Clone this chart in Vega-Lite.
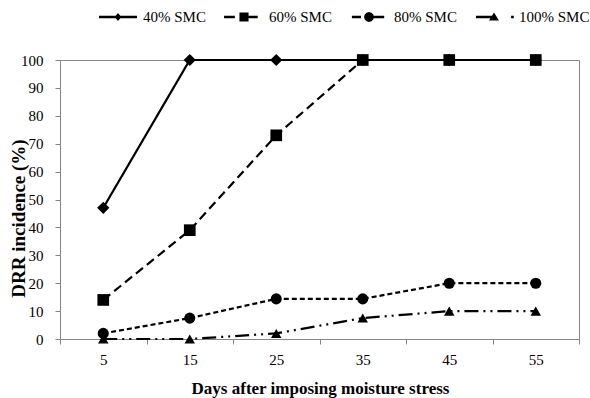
{
  "$schema": "https://vega.github.io/schema/vega-lite/v6.json",
  "autosize": "none",
  "width": 519,
  "height": 279,
  "padding": {"left": 60, "top": 60, "right": 11, "bottom": 59},
  "background": "white",
  "config": {
    "font": "Liberation Serif",
    "view": {"stroke": "#868686", "strokeWidth": 1},
    "axis": {"grid": false, "domainColor": "#868686", "tickColor": "#868686", "labelFont": "Liberation Serif", "labelFontSize": 15, "labelColor": "black", "titleFont": "Liberation Serif", "titleColor": "black", "titleFontWeight": "bold"}
  },
  "data": {"values": [
    {"day": "5", "series": "40% SMC", "value": 47},
    {"day": "15", "series": "40% SMC", "value": 100},
    {"day": "25", "series": "40% SMC", "value": 100},
    {"day": "35", "series": "40% SMC", "value": 100},
    {"day": "45", "series": "40% SMC", "value": 100},
    {"day": "55", "series": "40% SMC", "value": 100},
    {"day": "5", "series": "60% SMC", "value": 14},
    {"day": "15", "series": "60% SMC", "value": 39},
    {"day": "25", "series": "60% SMC", "value": 73},
    {"day": "35", "series": "60% SMC", "value": 100},
    {"day": "45", "series": "60% SMC", "value": 100},
    {"day": "55", "series": "60% SMC", "value": 100},
    {"day": "5", "series": "80% SMC", "value": 2},
    {"day": "15", "series": "80% SMC", "value": 7.5},
    {"day": "25", "series": "80% SMC", "value": 14.4},
    {"day": "35", "series": "80% SMC", "value": 14.4},
    {"day": "45", "series": "80% SMC", "value": 20},
    {"day": "55", "series": "80% SMC", "value": 20},
    {"day": "5", "series": "100% SMC", "value": 0},
    {"day": "15", "series": "100% SMC", "value": 0},
    {"day": "25", "series": "100% SMC", "value": 2},
    {"day": "35", "series": "100% SMC", "value": 7.5},
    {"day": "45", "series": "100% SMC", "value": 10},
    {"day": "55", "series": "100% SMC", "value": 10}
  ]},
  "encoding": {
    "x": {
      "field": "day", "type": "ordinal",
      "scale": {"type": "band", "domain": ["5", "15", "25", "35", "45", "55"], "paddingInner": 0, "paddingOuter": 0},
      "axis": {"title": "Days after imposing moisture stress", "titleFontSize": 17, "labelAngle": 0, "tickBand": "extent", "tickSize": 5, "labelPadding": 8, "titleX": 260, "titleY": 54, "titleBaseline": "alphabetic", "titleAnchor": null}
    },
    "y": {
      "field": "value", "type": "quantitative",
      "scale": {"domain": [0, 100], "nice": false},
      "axis": {"title": "DRR incidence (%)", "titleFontSize": 19, "values": [0, 10, 20, 30, 40, 50, 60, 70, 80, 90, 100], "tickSize": 5, "labelPadding": 12, "titleX": -42, "titleY": 158, "titleBaseline": "middle", "titleAngle": -90}
    }
  },
  "layer": [
    {
      "mark": {"type": "line", "color": "black", "strokeWidth": 2.2},
      "encoding": {
        "detail": {"field": "series", "type": "nominal"},
        "strokeDash": {
          "field": "series", "type": "nominal",
          "scale": {"domain": ["40% SMC", "60% SMC", "80% SMC", "100% SMC"], "range": [[1, 0], [9, 5], [5, 3], [14, 5, 2, 5, 2, 5]]},
          "legend": null
        }
      }
    },
    {
      "mark": {"type": "point", "filled": true, "color": "black", "opacity": 1},
      "encoding": {
        "shape": {
          "field": "series", "type": "nominal",
          "scale": {"domain": ["40% SMC", "60% SMC", "80% SMC", "100% SMC"], "range": ["diamond", "square", "circle", "triangle-up"]},
          "legend": null
        },
        "size": {
          "field": "series", "type": "nominal",
          "scale": {"domain": ["40% SMC", "60% SMC", "80% SMC", "100% SMC"], "range": [150, 110, 115, 115]},
          "legend": null
        }
      }
    },
    {
      "transform": [{"filter": "datum.value < 0"}],
      "mark": {"type": "point", "filled": true, "fill": "black", "opacity": 1, "size": 1444},
      "encoding": {
        "shape": {
          "field": "series", "type": "nominal",
          "scale": {"domain": ["40% SMC", "60% SMC", "80% SMC", "100% SMC"], "range": [
            "M-1,-0.07H1V0.07H-1ZM0,-0.21L0.18,0L0,0.21L-0.18,0Z",
            "M-1.05,-0.07H-0.48V0.07H-1.05ZM0.2,-0.07H0.72V0.07H0.2ZM-0.24,-0.24H0.24V0.24H-0.24Z",
            "M-0.9,-0.07H-0.42V0.07H-0.9ZM0.2,-0.07H0.8V0.07H0.2ZM0.26,0L0.225,0.13L0.13,0.225L0,0.26L-0.13,0.225L-0.225,0.13L-0.26,0L-0.225,-0.13L-0.13,-0.225L0,-0.26L0.13,-0.225L0.225,-0.13Z",
            "M-0.95,-0.07H0V0.07H-0.95ZM0.9,-0.07H1.04V0.07H0.9ZM-0.26,0.18L0,-0.24L0.26,0.18Z"
          ]},
          "legend": {
            "title": null, "orient": "none", "direction": "horizontal", "legendX": 39, "legendY": -62,
            "padding": 0, "symbolSize": 1444, "symbolStrokeWidth": 0, "symbolFillColor": "black", "symbolOpacity": 1,
            "labelFont": "Liberation Serif", "labelFontSize": 15, "labelColor": "black", "labelOffset": 6, "columnPadding": 18,
            "encode": {"symbols": {"update": {"fill": {"value": "black"}, "opacity": {"value": 1}}}}
          }
        }
      }
    }
  ],
  "resolve": {"scale": {"shape": "independent", "size": "independent"}, "legend": {"shape": "independent"}}
}
